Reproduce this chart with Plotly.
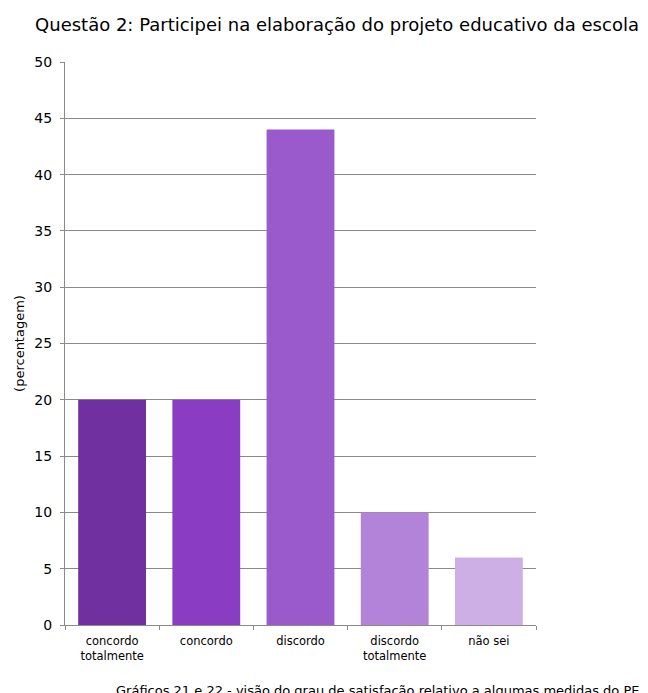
import plotly.graph_objects as go

categories = ["concordo<br>totalmente", "concordo", "discordo", "discordo<br>totalmente", "não sei"]
values = [20, 20, 44, 10, 6]
colors = ["#7030A0", "#8A3DC3", "#9B5ACB", "#B283D9", "#CDAFE6"]
y_ticks = [0, 5, 10, 15, 20, 25, 30, 35, 40, 45, 50]

title_text = "Questão 2: Participei na elaboração do projeto educativo da escola"
y_title = "(percentagem)"
caption = "Gráficos 21 e 22 - visão do grau de satisfação relativo a algumas medidas do PEE"

FONT = "DejaVu Sans, Verdana, sans-serif"
GRID = "#8a8a8a"

# page body has an 8px margin, so the figure is sized to the visible area
W, H = 640, 685
L, T, PW, PH = 56.5, 54, 472, 563.5

fig = go.Figure(
    go.Bar(
        x=categories,
        y=values,
        marker=dict(color=colors, line=dict(width=0)),
        width=0.72,
        hoverinfo="skip",
    )
)

fig.update_layout(
    width=W,
    height=H,
    margin=dict(l=L, r=W - L - PW, t=T, b=H - T - PH, pad=0),
    paper_bgcolor="white",
    plot_bgcolor="white",
    showlegend=False,
    font=dict(family=FONT, color="#000000"),
    title=dict(
        text=title_text,
        font=dict(family=FONT, size=18, color="#000000"),
        xref="container",
        x=329 / W,
        xanchor="center",
        yref="container",
        y=1 - 17 / H,
        yanchor="middle",
    ),
    xaxis=dict(
        type="category",
        showline=True,
        linecolor=GRID,
        linewidth=1,
        ticks="outside",
        tickson="boundaries",
        ticklen=4,
        tickcolor=GRID,
        ticklabelstandoff=5,
        tickfont=dict(family=FONT, size=11.5, color="#000000"),
        showgrid=False,
        zeroline=False,
        fixedrange=True,
    ),
    yaxis=dict(
        range=[0, 50],
        tickvals=y_ticks,
        showline=True,
        linecolor=GRID,
        linewidth=1,
        ticks="outside",
        ticklen=4,
        tickcolor=GRID,
        ticklabelstandoff=5,
        tickfont=dict(family=FONT, size=14, color="#000000"),
        showgrid=True,
        gridcolor=GRID,
        gridwidth=1,
        zeroline=False,
        title=dict(text=y_title, font=dict(family=FONT, size=13, color="#000000"), standoff=6),
        fixedrange=True,
    ),
    annotations=[
        dict(
            text=caption,
            xref="paper",
            yref="paper",
            x=(106 - L) / PW,
            y=(2 - (H - T - PH)) / PH,
            xanchor="left",
            yanchor="middle",
            showarrow=False,
            font=dict(family=FONT, size=13, color="#000000"),
        )
    ],
)

fig.write_html("out.html")
